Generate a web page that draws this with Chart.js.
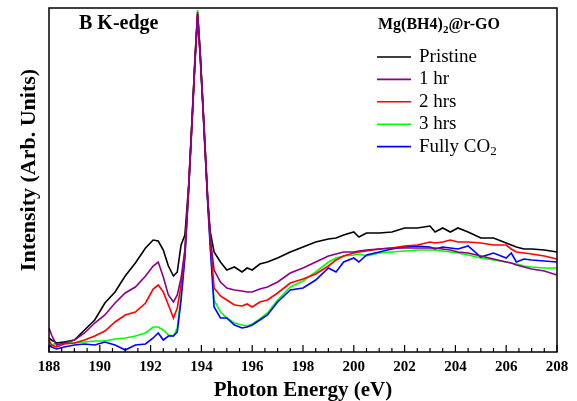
<!DOCTYPE html>
<html>
<head>
<meta charset="utf-8">
<script src="https://cdn.jsdelivr.net/npm/chart.js@4.4.1/dist/chart.umd.min.js"></script>
<style>
  html, body { margin: 0; padding: 0; background: #fff; }
  #wrap { width: 577px; height: 401px; }
</style>
</head>
<body>
<div id="wrap"><canvas id="xanes" width="577" height="401"></canvas></div>
<script>
// photon energy (eV), shared by all spectra
const energy = [
  188.0, 188.1, 188.3, 188.6, 189.0, 189.4, 189.8, 190.2, 190.6, 191.0,
  191.4, 191.8, 192.1, 192.3, 192.5, 192.7, 192.9, 193.05, 193.2, 193.35,
  193.5, 193.65, 193.75, 193.85, 193.95, 194.05, 194.15, 194.25, 194.35, 194.5,
  194.75, 195.0, 195.3, 195.6, 195.8, 196.0, 196.3, 196.6, 197.0, 197.5,
  198.0, 198.5, 199.0, 199.3, 199.6, 200.0, 200.2, 200.5, 201.0, 201.5,
  202.0, 202.5, 203.0, 203.2, 203.5, 203.8, 204.1, 204.5, 205.0, 205.5,
  206.0, 206.2, 206.4, 206.7, 207.0, 207.5, 208.0
];

// intensity, arbitrary units
const pristine = [
  14, 12, 9, 10, 12, 22, 32, 49, 60, 76,
  89, 104, 112, 111, 102, 86, 76, 80, 107, 117,
  167, 242, 294, 338, 300, 252, 202, 152, 120, 100,
  90, 82, 85, 80, 84, 82, 88, 90, 94, 100,
  105, 110, 113, 114, 117, 120, 115, 119, 119, 120,
  124, 124, 126, 120, 124, 120, 124, 120, 114, 114,
  109, 107, 105, 103, 103, 102, 100
];
const hr1 = [
  24, 17, 7, 9, 12, 19, 29, 37, 49, 59,
  65, 76, 86, 90, 75, 57, 50, 57, 74, 102,
  167, 242, 294, 340, 300, 252, 202, 152, 114, 82,
  70, 64, 62, 61, 60, 60, 63, 65, 70, 79,
  84, 90, 96, 98, 100, 100, 101, 102, 103, 104,
  104, 104, 104, 104, 103, 102, 100, 99, 96, 93,
  90, 89, 87, 85, 83, 81, 77
];
const hrs2 = [
  12, 7, 5, 8, 9, 12, 16, 21, 30, 37,
  40, 49, 63, 67, 60, 47, 34, 44, 67, 100,
  165, 240, 292, 338, 298, 252, 202, 152, 112, 64,
  56, 52, 47, 46, 48, 45, 50, 52, 59, 69,
  73, 78, 86, 92, 96, 99, 100, 101, 103, 104,
  106, 107, 110, 109, 110, 112, 110, 110, 109, 107,
  107, 103, 100, 99, 98, 96, 93
];
const hrs3 = [
  4, 7, 9, 10, 9, 10, 11, 11, 13, 14,
  16, 19, 25, 25, 22, 17, 16, 24, 57, 97,
  164, 242, 296, 342, 300, 250, 200, 150, 107, 52,
  40, 34, 29, 27, 26, 28, 33, 39, 52, 65,
  71, 80, 90, 94, 96, 97, 98, 96, 99, 100,
  101, 102, 102, 102, 101, 100, 99, 97, 94, 92,
  90, 89, 88, 86, 85, 84, 84
];
const fullyCO2 = [
  7, 5, 3, 5, 7, 8, 7, 10, 7, 2,
  7, 8, 14, 19, 12, 16, 16, 20, 52, 94,
  162, 238, 290, 334, 296, 248, 198, 148, 104, 45,
  34, 34, 27, 24, 25, 27, 32, 37, 50, 62,
  64, 72, 84, 80, 90, 94, 90, 97, 100, 103,
  105, 106, 105, 103, 105, 104, 103, 106, 95, 99,
  94, 99, 90, 93, 92, 91, 90
];

const seriesNames = ["Pristine", "1 hr", "2 hrs", "3 hrs", "Fully CO2"];
const seriesColors = ["#000000", "#8b008b", "#ff0000", "#00ff00", "#0000ff"];
const seriesData = [pristine, hr1, hrs2, hrs3, fullyCO2];
const drawOrder = [2, 0, 1, 4, 3];
const xTicks = [188, 190, 192, 194, 196, 198, 200, 202, 204, 206, 208];

const serif = "'Liberation Serif', 'Times New Roman', serif";

function pts(ys) {
  return ys.map((y, i) => ({ x: energy[i], y }));
}

// frame, inward minor/major ticks, y title, annotations and legend
const decor = {
  id: "decor",
  afterDraw(chart) {
    const { ctx, chartArea: a, scales: { x } } = chart;
    ctx.save();
    ctx.strokeStyle = "#000";
    ctx.lineWidth = 1.5;
    ctx.strokeRect(a.left, a.top, a.right - a.left, a.bottom - a.top);

    ctx.lineWidth = 1.2;
    ctx.beginPath();
    for (let v = 188; v <= 208; v += 0.5) {
      const px = x.getPixelForValue(v);
      const len = v % 2 === 0 ? 7 : 4;
      ctx.moveTo(px, a.bottom);
      ctx.lineTo(px, a.bottom - len);
    }
    ctx.stroke();

    ctx.fillStyle = "#000";

    // y axis title
    ctx.save();
    ctx.translate(29, 170);
    ctx.rotate(-Math.PI / 2);
    ctx.font = "bold 22px " + serif;
    ctx.textAlign = "center";
    ctx.textBaseline = "middle";
    ctx.fillText("Intensity (Arb. Units)", 0, 0);
    ctx.restore();

    ctx.textBaseline = "alphabetic";
    ctx.font = "bold 20px " + serif;
    ctx.fillText("B K-edge", 79, 29);

    // Mg(BH4)2@r-GO with subscript
    ctx.font = "bold 16px " + serif;
    let tx = 378;
    ctx.fillText("Mg(BH4)", tx, 29);
    tx += ctx.measureText("Mg(BH4)").width;
    ctx.font = "bold 11px " + serif;
    ctx.fillText("2", tx, 33);
    tx += ctx.measureText("2").width;
    ctx.font = "bold 16px " + serif;
    ctx.fillText("@r-GO", tx, 29);

    // legend
    chart.data.datasets.forEach((ds, i) => {
      const cy = 57 + i * 22.4;
      ctx.strokeStyle = ds.borderColor;
      ctx.lineWidth = 1.6;
      ctx.beginPath();
      ctx.moveTo(377, cy);
      ctx.lineTo(411, cy);
      ctx.stroke();
      ctx.font = "19px " + serif;
      ctx.textBaseline = "middle";
      if (ds.label === "Fully CO2") {
        ctx.fillText("Fully CO", 419, cy);
        const w = ctx.measureText("Fully CO").width;
        ctx.font = "13px " + serif;
        ctx.fillText("2", 419 + w, cy + 5);
      } else {
        ctx.fillText(ds.label, 419, cy);
      }
    });
    ctx.restore();
  }
};

new Chart(document.getElementById("xanes"), {
  type: "line",
  data: {
    datasets: seriesNames.map((name, i) => ({
      label: name,
      data: pts(seriesData[i]),
      borderColor: seriesColors[i],
      borderWidth: 1.6,
      pointRadius: 0,
      tension: 0,
      fill: false,
      order: drawOrder[i]
    }))
  },
  options: {
    responsive: false,
    animation: false,
    layout: { padding: { left: 0, top: 8, right: 20, bottom: 0 } },
    scales: {
      x: {
        type: "linear",
        min: 188,
        max: 208,
        afterFit: s => { s.height = 49; },
        afterBuildTicks: s => { s.ticks = xTicks.map(v => ({ value: v })); },
        grid: { display: false, drawTicks: false },
        border: { display: false },
        ticks: {
          padding: 6,
          color: "#000",
          font: { family: serif, size: 15, weight: "bold" }
        },
        title: {
          display: true,
          text: "Photon Energy (eV)",
          color: "#000",
          padding: { top: 0, bottom: -2 },
          font: { family: serif, size: 21, weight: "bold" }
        }
      },
      y: {
        min: 0,
        max: 344,
        afterFit: s => { s.width = 49; },
        grid: { display: false, drawTicks: false },
        border: { display: false },
        ticks: { display: false },
        title: { display: false }
      }
    },
    plugins: {
      legend: { display: false },
      tooltip: { enabled: false }
    }
  },
  plugins: [decor]
});
</script>
</body>
</html>
